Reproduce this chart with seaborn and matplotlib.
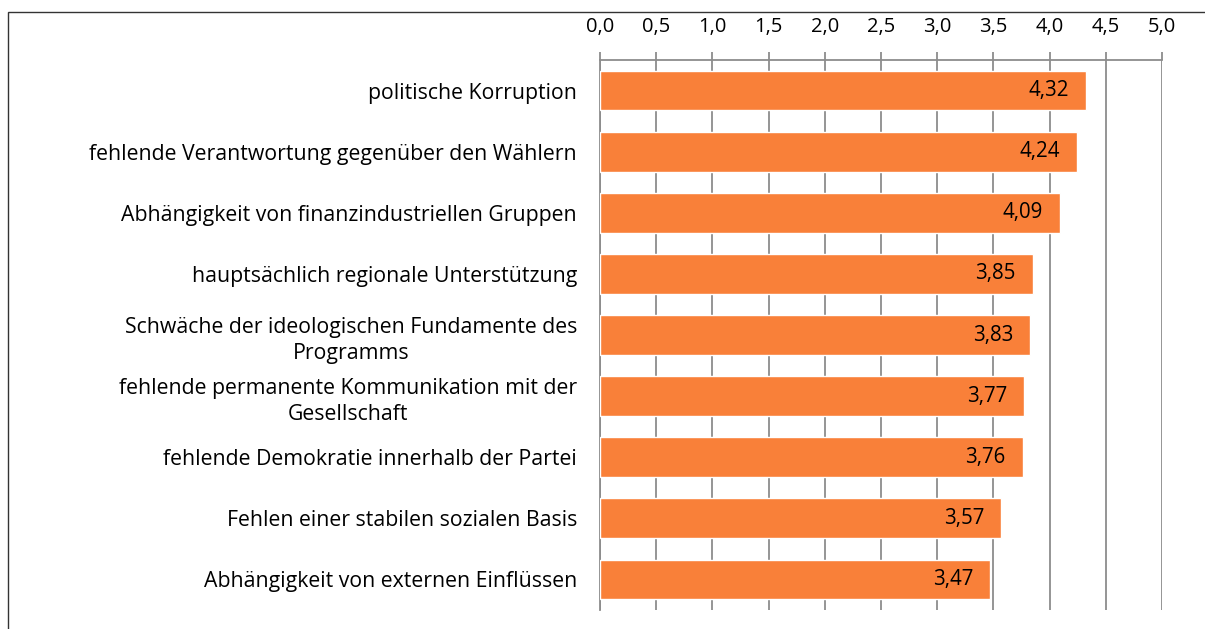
import numpy as np
import pandas as pd
import matplotlib
matplotlib.use("Agg")
import matplotlib.pyplot as plt
import seaborn as sns
from matplotlib.patches import Rectangle

categories = [
    "politische Korruption",
    "fehlende Verantwortung gegenüber den Wählern",
    "Abhängigkeit von finanzindustriellen Gruppen",
    "hauptsächlich regionale Unterstützung",
    "Schwäche der ideologischen Fundamente des\nProgramms",
    "fehlende permanente Kommunikation mit der\nGesellschaft",
    "fehlende Demokratie innerhalb der Partei",
    "Fehlen einer stabilen sozialen Basis",
    "Abhängigkeit von externen Einflüssen",
]
values = [4.32, 4.24, 4.09, 3.85, 3.83, 3.77, 3.76, 3.57, 3.47]
x_ticks = [0.0, 0.5, 1.0, 1.5, 2.0, 2.5, 3.0, 3.5, 4.0, 4.5, 5.0]

sns.set_style("white")
plt.rcParams['font.family'] = ['Open Sans', 'DejaVu Sans']
plt.rcParams['text.color'] = 'black'
plt.rcParams['xtick.labelcolor'] = 'black'
plt.rcParams['ytick.labelcolor'] = 'black'

df = pd.DataFrame({"cat": categories, "val": values})

fig = plt.figure(figsize=(12.05, 6.29), dpi=100)
ax = fig.add_axes([600 / 1205, 1 - 610 / 629, 562 / 1205, 550 / 629])

sns.barplot(data=df, x="val", y="cat", orient="h", color="#F98039",
            saturation=1, width=0.65, ax=ax, zorder=3)

ax.set_xlim(0, 5)
ax.set_ylim(len(categories) - 0.5, -0.5)
ax.set_xticks(x_ticks)
ax.set_xticklabels([f"{t:.1f}".replace(".", ",") for t in x_ticks])
ax.xaxis.tick_top()
ax.tick_params(axis="x", which="major", direction="out", length=5.8, width=1.3,
               color="#8c8c8c", labelcolor="black", labelsize=14.5, pad=11)
ax.grid(axis="x", color="#8c8c8c", linewidth=1.3, zorder=0)
ax.set_axisbelow(True)

# category ticks sit at the boundaries between bars
ax.set_yticks(range(len(categories)))
ax.set_yticklabels(categories, ha="right", multialignment="center",
                   linespacing=1.35, color="black")
ax.set_yticks(np.arange(-0.5, len(categories), 1), minor=True)
ax.tick_params(axis="y", which="major", length=0, labelsize=15.3, pad=16.5)
ax.tick_params(axis="y", which="minor", length=5.8, width=1.3, color="#8c8c8c")

ax.set_xlabel("")
ax.set_ylabel("")
for side in ["right", "bottom"]:
    ax.spines[side].set_visible(False)
for side in ["top", "left"]:
    ax.spines[side].set_color("#8c8c8c")
    ax.spines[side].set_linewidth(1.3)

for i, v in enumerate(values):
    ax.text(v - 0.15, i, f"{v:.2f}".replace(".", ","), ha="right", va="center",
            fontsize=14.8, color="black", zorder=4)

# outer chart frame (cut by the image edges)
fig.patches.append(Rectangle((8 / 1205, -0.1), 1.2, 1.1 - 12 / 629,
                             transform=fig.transFigure, fill=False,
                             edgecolor="#333333", linewidth=1.0))

fig.savefig("out.png", dpi=100)
